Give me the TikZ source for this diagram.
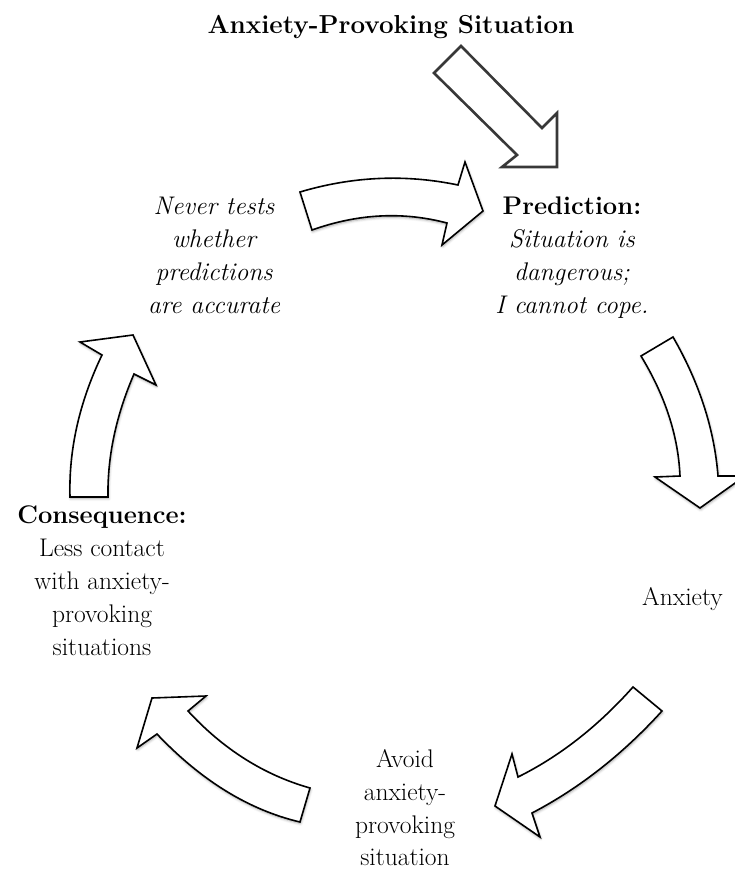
\documentclass[tikz,border=0pt]{standalone}
\usetikzlibrary{shadows.blur}
\begin{document}
\begin{tikzpicture}[x=1pt,y=-1pt,
  titletext/.style={font=\bfseries\fontsize{26}{31}\selectfont, anchor=base, inner sep=0pt},
  heading/.style={font=\bfseries\fontsize{25.5}{30}\selectfont, anchor=base, inner sep=0pt},
  bodytext/.style={font=\fontsize{25.5}{30}\selectfont, anchor=base, inner sep=0pt},
  slanted/.style={font=\itshape\fontsize{25.5}{30}\selectfont, anchor=base, inner sep=0pt},
  flowarrow/.style={draw=black, line width=1.6pt, fill=white, line join=miter,
    blur shadow={shadow xshift=0.6pt, shadow yshift=-1.6pt, shadow blur radius=2.5pt, shadow opacity=35}},
  plainarrow/.style={draw=black!78, line width=2.6pt, fill=white, line join=miter}]
\path[use as bounding box] (0,0) rectangle (735,871);
\clip (0,0) rectangle (735,871);

% entry arrow from the situation to the prediction
\draw[plainarrow] (434,73) -- (461,46) -- (542,128) -- (557,113) -- (557,167)
  -- (502,167) -- (517,155) -- cycle;

% curved arrows of the cycle
\draw[flowarrow] (300,192) .. controls (352.7,176.3) and (405.3,174) .. (458,185)
  -- (465,162) -- (483,211) -- (442,245) -- (447,223)
  .. controls (402.7,211.3) and (357.7,213.7) .. (312,230) -- cycle;
\draw[flowarrow] (673,337) .. controls (699.3,382.7) and (714.3,429) .. (718,476)
  -- (745,476) -- (700,508) -- (655,477) -- (680,476)
  .. controls (678.3,436) and (665.3,396) .. (641,356) -- cycle;
\draw[flowarrow] (633,687) .. controls (598,726.3) and (559.7,756.3) .. (518,777)
  -- (512,754) -- (495,806) -- (540,837) -- (532,813)
  .. controls (579.3,788.3) and (622.7,754.3) .. (662,711) -- cycle;
\draw[flowarrow] (310,788) .. controls (264,775) and (223.3,749.3) .. (188,711)
  -- (206,696) -- (152,698) -- (137,748) -- (157,734)
  .. controls (201.3,780.7) and (249,810) .. (300,822) -- cycle;
\draw[flowarrow] (70,497) .. controls (68.7,449.7) and (79.3,402.3) .. (102,355)
  -- (80,342) -- (133,335) -- (156,385) -- (134,374)
  .. controls (116,415.7) and (107.3,456.7) .. (108,497) -- cycle;

% labels
\node[titletext] (title) at (391,33) {Anxiety-Provoking Situation};

\node[heading] (pred1) at (572,214) {Prediction:};
\node[slanted] (pred2) at (572,247) {Situation is};
\node[slanted] (pred3) at (572,280) {dangerous;};
\node[slanted] (pred4) at (572,313) {I cannot cope.};

\node[slanted] (test1) at (214,214) {Never tests};
\node[slanted] (test2) at (214,247) {whether};
\node[slanted] (test3) at (214,280) {predictions};
\node[slanted] (test4) at (214,313) {are accurate};

\node[bodytext, anchor=base west] (anx) at (642,605) {Anxiety};

\node[heading] (cons1) at (102,523) {Consequence:};
\node[bodytext] (cons2) at (102,556) {Less contact};
\node[bodytext] (cons3) at (102,589) {with anxiety-};
\node[bodytext] (cons4) at (102,622) {provoking};
\node[bodytext] (cons5) at (102,655) {situations};

\node[bodytext] (avoid1) at (405,767) {Avoid};
\node[bodytext] (avoid2) at (405,800) {anxiety-};
\node[bodytext] (avoid3) at (405,833) {provoking};
\node[bodytext] (avoid4) at (405,865) {situation};
\end{tikzpicture}
\end{document}
